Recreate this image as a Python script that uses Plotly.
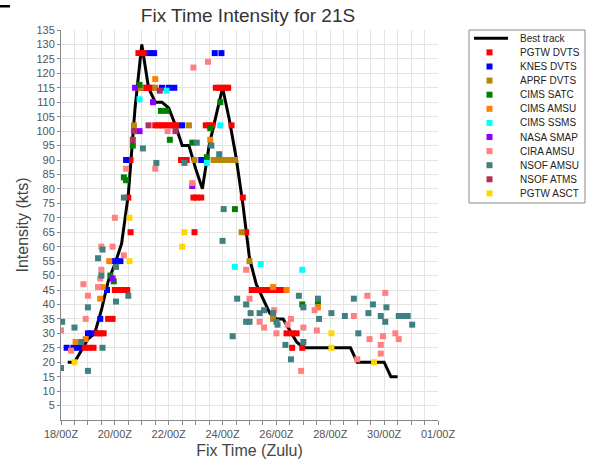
import pandas as pd
import plotly.graph_objects as go

START = pd.Timestamp("2020-01-18 00:00")
END = pd.Timestamp("2020-02-01 00:00")

# ---- data (hours after 18/00Z, intensity in kts) ----
best_track_hours = list(range(6, 301, 6))
best_track_kts = [20, 20, 24, 28, 30, 38, 48, 54, 61, 78,
                  108, 130, 115, 110, 110, 108, 102, 95, 95, 87,
                  80, 95, 105, 115, 104, 91, 75, 56, 47, 42,
                  37, 35, 35, 31, 27, 25, 25, 25, 25, 25,
                  25, 25, 25, 20, 20, 20, 20, 20, 15, 15]

pgtw_dvts_hours = [21, 25, 29, 32, 35, 38, 42, 46, 48, 52, 56, 59, 60, 62, 62,
                   69, 72, 74, 69, 73, 76, 78, 81,
                   84, 87, 90, 93, 96, 99, 101, 104, 107, 110, 112,
                   118, 121, 125, 119, 129, 132, 135, 152,
                   138, 141, 144, 147, 149, 162, 165,
                   170, 173, 176, 179, 182, 185, 188, 191, 194, 197,
                   201, 206, 210, 206, 215]
pgtw_dvts_kts = [25, 25, 25, 30, 30, 30, 35, 35, 45, 45, 45, 45, 77, 65, 90,
                 127, 127, 127, 115, 115, 115, 115, 115,
                 102, 102, 102, 102, 102, 102, 102, 102, 90, 90, 90,
                 77, 77, 77, 65, 102, 102, 102, 102,
                 115, 115, 115, 115, 115, 77, 65,
                 45, 45, 45, 45, 45, 45, 45, 45, 45, 45,
                 30, 30, 30, 25, 25]

knes_dvts_hours = [5, 11, 16, 24, 27, 35, 41, 48, 53, 58, 79, 83, 90, 96, 101, 108, 125, 137, 143]
knes_dvts_kts = [25, 25, 25, 30, 30, 35, 45, 55, 55, 90, 127, 127, 115, 115, 115, 102, 90, 127, 127]

aprf_dvts_hours = [65, 71, 84, 114, 119, 136, 140, 145, 150, 155, 161, 168, 189]
aprf_dvts_kts = [102, 115, 115, 102, 90, 90, 90, 90, 90, 90, 65, 55, 35]

cims_satc_hours = [44, 47, 56, 58, 64, 70, 89, 94, 97, 117, 130, 133, 142, 155, 215, 229]
cims_satc_kts = [50, 48, 84, 83, 95, 116, 107, 107, 97, 96, 91, 101, 110, 73, 40, 41]

cims_amsu_hours = [13, 22, 35, 37, 43, 84, 133, 189, 201, 229]
cims_amsu_kts = [27, 28, 42, 46, 55, 118, 97, 46, 45, 39]

cims_ssms_hours = [70, 94, 130, 142, 155, 178, 215]
cims_ssms_kts = [111, 114, 89, 102, 53, 54, 52]

nasa_smap_hours = [46, 66, 70, 82, 117]
nasa_smap_kts = [49, 115, 100, 110, 81]

cira_amsu_hours = [0, 9, 20, 22, 24, 33, 35, 36, 36, 46, 48, 56, 58, 84, 95, 117, 118, 131,
                   165, 168, 177, 181, 190, 192, 202, 205, 216, 214, 226, 228,
                   261, 264, 273, 275, 285, 285, 287, 289, 298, 301]
cira_amsu_kts = [31, 24, 47, 35, 43, 46, 49, 52, 60, 60, 70, 57, 87, 87, 100, 82, 122, 124,
                 52, 42, 34, 32, 38, 30, 33, 35, 32, 17, 38, 31,
                 36, 21, 43, 28, 26, 23, 29, 44, 30, 28]

nsof_amsu_hours = [0, 1, 12, 18, 24, 24, 33, 37, 36, 37, 49, 49, 56, 60, 73, 85, 110, 121,
                   134, 141, 144, 145, 153, 157, 165, 165, 168, 169, 177, 181, 189, 192, 193,
                   200, 205, 212, 216, 216, 229, 230, 241, 253, 261, 265, 274, 278, 285,
                   289, 290, 301, 304, 309, 313]
nsof_amsu_kts = [18, 34, 32, 27, 39, 17, 56, 59, 50, 25, 53, 41, 77, 43, 94, 89, 89, 96,
                 95, 92, 62, 73, 29, 42, 40, 34, 34, 37, 37, 38, 37, 34, 33,
                 26, 21, 43, 39, 27, 42, 35, 37, 36, 42, 30, 37, 40, 36,
                 34, 39, 36, 36, 36, 33]

nsof_atms_hours = [64, 65, 78, 88, 102]
nsof_atms_kts = [97, 100, 102, 114, 100]

pgtw_asct_hours = [12, 61, 61, 108, 110, 241, 241, 279]
pgtw_asct_kts = [20, 70, 55, 60, 65, 30, 25, 20]

y_ticks = list(range(5, 136, 5))

series = [
    ("PGTW DVTS", pgtw_dvts_hours, pgtw_dvts_kts, "#ff0000"),
    ("KNES DVTS", knes_dvts_hours, knes_dvts_kts, "#0000ff"),
    ("APRF DVTS", aprf_dvts_hours, aprf_dvts_kts, "#b8860b"),
    ("CIMS SATC", cims_satc_hours, cims_satc_kts, "#008000"),
    ("CIMS AMSU", cims_amsu_hours, cims_amsu_kts, "#ff8000"),
    ("CIMS SSMS", cims_ssms_hours, cims_ssms_kts, "#00ffff"),
    ("NASA SMAP", nasa_smap_hours, nasa_smap_kts, "#8a00ff"),
    ("CIRA AMSU", cira_amsu_hours, cira_amsu_kts, "#ff8080"),
    ("NSOF AMSU", nsof_amsu_hours, nsof_amsu_kts, "#408080"),
    ("NSOF ATMS", nsof_atms_hours, nsof_atms_kts, "#b03060"),
    ("PGTW ASCT", pgtw_asct_hours, pgtw_asct_kts, "#ffd700"),
]


def to_time(hours):
    return [START + pd.Timedelta(hours=h) for h in hours]


FONT = "Liberation Sans, Arial, sans-serif"
W, H = 589, 463
L, R, T, B = 61, 151, 30, 43
PW, PH = W - L - R, H - T - B

fig = go.Figure()
fig.add_trace(go.Scatter(x=to_time(best_track_hours), y=best_track_kts, mode="lines",
                         line=dict(color="black", width=3), name="Best track",
                         showlegend=False))
for name, hrs, kts, col in series:
    fig.add_trace(go.Scatter(x=to_time(hrs), y=kts, mode="markers", name=name,
                             marker=dict(symbol="square", size=6, color=col,
                                         line=dict(width=0)),
                             showlegend=False))

# ---- custom compact legend ----
def px_x(p):
    return (p - L) / PW


def px_y(p):
    return (H - B - p) / PH


shapes = [dict(type="rect", xref="paper", yref="paper",
               x0=px_x(469), x1=px_x(585), y0=px_y(203), y1=px_y(30),
               line=dict(color="#888888", width=1), fillcolor="white", layer="above")]
annotations = []
names = ["Best track"] + [s[0] for s in series]
for i, nm in enumerate(names):
    yc = 38.3 + i * 14.1
    if i == 0:
        shapes.append(dict(type="line", xref="paper", yref="paper",
                           x0=px_x(474), x1=px_x(508), y0=px_y(yc), y1=px_y(yc),
                           line=dict(color="black", width=3), layer="above"))
    else:
        col = series[i - 1][3]
        shapes.append(dict(type="rect", xref="paper", yref="paper",
                           x0=px_x(486.5), x1=px_x(492.5), y0=px_y(yc + 3), y1=px_y(yc - 3),
                           line=dict(width=0), fillcolor=col, layer="above"))
    annotations.append(dict(xref="paper", yref="paper", x=px_x(518), y=px_y(yc),
                            text=nm, showarrow=False, xanchor="left", yanchor="middle",
                            font=dict(family=FONT, size=10, color="#222222")))

# small dark mark at top-left corner
shapes.append(dict(type="rect", xref="paper", yref="paper",
                   x0=px_x(0), x1=px_x(10), y0=px_y(7.5), y1=px_y(5),
                   line=dict(width=0), fillcolor="black", layer="above"))

fig.update_layout(
    width=W, height=H,
    margin=dict(l=L, r=R, t=T, b=B, autoexpand=False),
    paper_bgcolor="white", plot_bgcolor="white",
    font=dict(family=FONT, size=11, color="#555555"),
    title=dict(text="Fix Time Intensity for 21S", x=248 / W, xanchor="center",
               xref="container", y=1 - 15 / H, yanchor="middle", yref="container",
               font=dict(family=FONT, size=19, color="#333333")),
    showlegend=False,
    shapes=shapes,
    annotations=annotations,
)
fig.update_xaxes(
    range=[START, END], type="date", automargin=False,
    tick0=START, dtick=2 * 86400000, tickformat="%d/%HZ",
    ticks="outside", ticklen=4, tickcolor="#888888",
    showgrid=True, gridcolor="#e4e4e4", gridwidth=1,
    minor=dict(dtick=43200000, showgrid=True, gridcolor="#e4e4e4",
               ticks="outside", ticklen=4, tickcolor="#888888"),
    showline=True, linecolor="#888888", linewidth=1,
    zeroline=False,
    tickfont=dict(family=FONT, size=11, color="#555555"),
    title=dict(text="Fix Time (Zulu)", standoff=5,
               font=dict(family=FONT, size=16, color="#444444")),
)
fig.update_yaxes(
    range=[0, 135], tickvals=y_ticks, automargin=False,
    ticks="outside", ticklen=3, tickcolor="#888888",
    showgrid=True, gridcolor="#e4e4e4", gridwidth=1,
    showline=True, linecolor="#888888", linewidth=1,
    zeroline=False,
    tickfont=dict(family=FONT, size=11, color="#555555"),
    title=dict(text="Intensity (kts)", standoff=3,
               font=dict(family=FONT, size=16, color="#444444")),
)

fig.write_html("out.html", config={"displayModeBar": False},
               post_script="document.body.style.margin='0px';")
